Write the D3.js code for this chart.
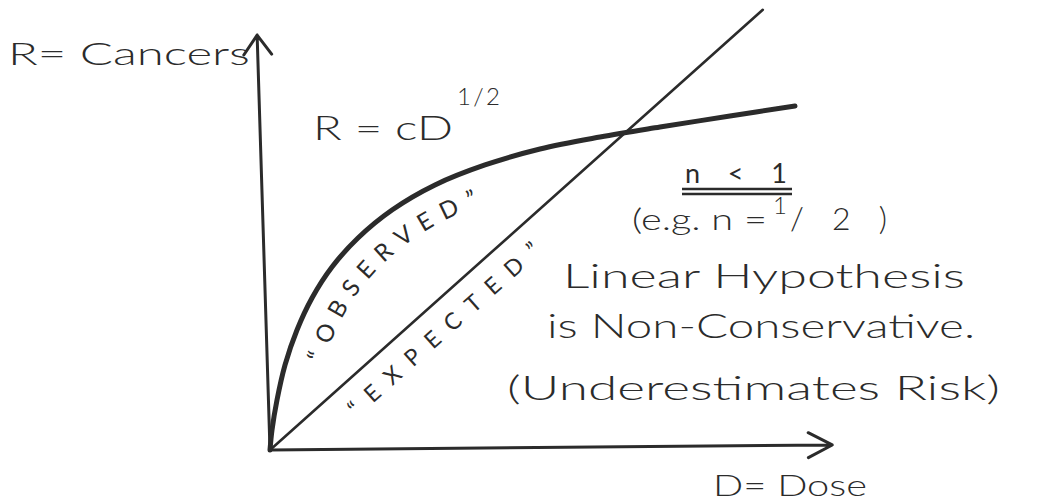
<!DOCTYPE html>
<html>
<head>
<meta charset="utf-8">
<script src="https://cdn.jsdelivr.net/npm/d3@7/dist/d3.min.js"></script>
<style>
  html, body { margin: 0; padding: 0; background: #fff; }
  svg { display: block; }
  text { font-family: Lato, "Open Sans", "DejaVu Sans", sans-serif; font-weight: 300; fill: #2b2b2b; }
</style>
</head>
<body>
<svg id="chart" width="1043" height="503"></svg>
<script>
// Dose–response sketch: observed R ~ D^(1/2) versus the linear expectation.
const doseObserved = [0, 0.036, 0.125, 0.268, 0.482, 0.750, 1.107, 1.571, 2.179, 2.946, 3.839, 4.821, 5.893, 6.964, 8.214, 9.375];
const riskObserved = [0, 0.476, 1.190, 2.024, 2.857, 3.619, 4.357, 5.048, 5.714, 6.310, 6.786, 7.167, 7.452, 7.690, 7.952, 8.190];
const doseExpected = [0, 8.80];
const riskExpected = [0, 10.48];

// Axis extents (dose, risk) of the hand-drawn arrows
const xAxisEnd = [10.04, 0.12];
const yAxisEnd = [-0.23, 9.88];

const axisLabels = ["R= Cancers", "D= Dose"];
const curveLabels = ["\u201COBSERVED\u201D", "\u201CEXPECTED\u201D"];
const formula = ["R = cD", "1/2"];
const condition = ["n < 1", "(e.g. n =", "1", "/2)"];
const notes = ["Linear Hypothesis", "is Non-Conservative.", "(Underestimates Risk)"];

const ink = "#2b2b2b";
const svg = d3.select("#chart");
svg.append("rect").attr("width", 1043).attr("height", 503).attr("fill", "#fff");

const x = d3.scaleLinear().domain([0, 10]).range([270, 830]);
const y = d3.scaleLinear().domain([0, 10]).range([450, 30]);

const observed = doseObserved.map((d, i) => [d, riskObserved[i]]);
const expected = doseExpected.map((d, i) => [d, riskExpected[i]]);

const line = d3.line().x(d => x(d[0])).y(d => y(d[1]));
const smooth = d3.line().x(d => x(d[0])).y(d => y(d[1])).curve(d3.curveCatmullRom.alpha(0.5));

// Axes with open arrowheads
function arrow(from, to, wing, spread) {
  const x0 = x(from[0]), y0 = y(from[1]), x1 = x(to[0]), y1 = y(to[1]);
  const a = Math.atan2(y1 - y0, x1 - x0);
  const w1 = [x1 - wing * Math.cos(a - spread), y1 - wing * Math.sin(a - spread)];
  const w2 = [x1 - wing * Math.cos(a + spread), y1 - wing * Math.sin(a + spread)];
  svg.append("path")
    .attr("d", `M${x0},${y0}L${x1},${y1}M${w1[0]},${w1[1]}L${x1},${y1}L${w2[0]},${w2[1]}`)
    .attr("fill", "none").attr("stroke", ink).attr("stroke-width", 3)
    .attr("stroke-linecap", "round").attr("stroke-linejoin", "round");
}
arrow([0, 0], xAxisEnd, 27, 0.48);
arrow([0, 0], yAxisEnd, 24, 0.62);

// Linear "expected" response
svg.append("path").attr("id", "expectedPath")
  .attr("d", line(expected))
  .attr("fill", "none").attr("stroke", ink).attr("stroke-width", 2.6)
  .attr("stroke-linecap", "round");

// Square-root "observed" response
svg.append("path").attr("id", "observedPath")
  .attr("d", smooth(observed))
  .attr("fill", "none").attr("stroke", ink).attr("stroke-width", 5)
  .attr("stroke-linecap", "round");

// Labels riding along each response
function pathLabel(id, txt, offset, len, shift, size) {
  svg.append("text")
    .attr("font-size", size)
    .style("font-weight", 400)
    .append("textPath")
    .attr("href", "#" + id)
    .attr("startOffset", offset)
    .attr("textLength", len)
    .attr("lengthAdjust", "spacing")
    .append("tspan").attr("dy", shift)
    .text(txt);
}
pathLabel("observedPath", curveLabels[0], 100, 262, 36, 24);
pathLabel("expectedPath", curveLabels[1], 86, 248, 34, 23);

// Plain text helper sized to a given width
function label(txt, x0, y0, size, width, adjust) {
  const t = svg.append("text").attr("x", x0).attr("y", y0).attr("font-size", size).text(txt);
  if (width) t.attr("textLength", width).attr("lengthAdjust", adjust || "spacingAndGlyphs");
  return t;
}

label(axisLabels[0], 8, 65, 32, 242);
label(axisLabels[1], 713, 496, 30, 154);

label(formula[0], 313, 140, 34, 140);
label(formula[1], 457, 105, 24, 43, "spacing");

label(condition[0], 685, 183, 27, 102, "spacing").style("font-weight", 400);
[189, 194].forEach(yy => {
  svg.append("line").attr("x1", 682).attr("x2", 792).attr("y1", yy).attr("y2", yy)
    .attr("stroke", ink).attr("stroke-width", 2.6);
});
label(condition[1], 632, 230, 29, 135);
label(condition[2], 773, 214, 24);
label(condition[3], 790, 230, 32, 97, "spacing");

label(notes[0], 563, 288, 34, 402);
label(notes[1], 547, 338, 34, 428);
label(notes[2], 507, 400, 34, 493);
</script>
</body>
</html>
